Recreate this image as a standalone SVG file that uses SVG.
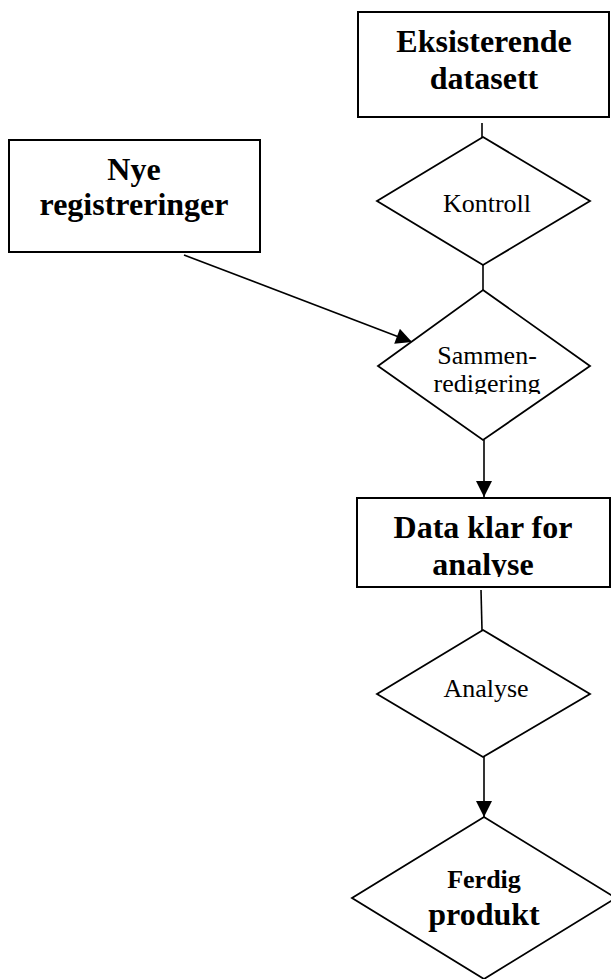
<svg xmlns="http://www.w3.org/2000/svg" width="611" height="979" viewBox="0 0 611 979">
  <style>
    .box { fill: #fff; stroke: #000; stroke-width: 2; }
    .dia { fill: #fff; stroke: #000; stroke-width: 1.8; }
    .edge { fill: none; stroke: #000; stroke-width: 1.6; }
    .bold { font-family: "Liberation Serif", "Times New Roman", serif; font-weight: bold; font-size: 32px; text-anchor: middle; fill: #000; }
    .reg { font-family: "Liberation Serif", "Times New Roman", serif; font-size: 26px; text-anchor: middle; fill: #000; }
  </style>
  <defs>
    <marker id="arrow" viewBox="0 0 10 10" refX="10" refY="5" markerWidth="10" markerHeight="10" markerUnits="userSpaceOnUse" orient="auto">
      <path d="M0,0 L10,5 L0,10 Z" fill="#000"/>
    </marker>
    <marker id="arrowBig" viewBox="0 0 10 10" refX="10" refY="5" markerWidth="17" markerHeight="16" markerUnits="userSpaceOnUse" orient="auto">
      <path d="M0,0 L10,5 L0,10 Z" fill="#000"/>
    </marker>
    <clipPath id="clipSammen"><rect x="378" y="290" width="212" height="104"/></clipPath>
    <clipPath id="clipData"><rect x="357" y="498" width="253" height="79"/></clipPath>
  </defs>

  <!-- connectors -->
  <g id="connectors">
    <line class="edge" x1="482" y1="123" x2="482" y2="137"/>
    <line class="edge" x1="483" y1="265" x2="483" y2="290"/>
    <line class="edge" x1="184" y1="255" x2="412" y2="342" marker-end="url(#arrowBig)"/>
    <line class="edge" x1="484" y1="440" x2="484" y2="497" marker-end="url(#arrowBig)"/>
    <line class="edge" x1="481" y1="590" x2="482" y2="630"/>
    <line class="edge" x1="484" y1="757" x2="484" y2="817" marker-end="url(#arrowBig)"/>
  </g>

  <g id="eksisterende">
    <rect class="box" x="358" y="12" width="251" height="105"/>
    <text class="bold" x="484" y="52">Eksisterende</text>
    <text class="bold" x="484" y="89">datasett</text>
  </g>

  <g id="nye">
    <rect class="box" x="9" y="140" width="251" height="112"/>
    <text class="bold" x="134" y="180">Nye</text>
    <text class="bold" x="134" y="215">registreringer</text>
  </g>

  <g id="kontroll">
    <polygon class="dia" points="483,137 590,201 483,265 377,201"/>
    <text class="reg" x="487" y="212">Kontroll</text>
  </g>

  <g id="sammenredigering">
    <polygon class="dia" points="483,290 590,366 483,440 378,366"/>
    <g clip-path="url(#clipSammen)">
      <text class="reg" x="487" y="364">Sammen-</text>
      <text class="reg" x="487" y="392">redigering</text>
    </g>
  </g>

  <g id="data-klar">
    <rect class="box" x="357" y="498" width="253" height="89"/>
    <g clip-path="url(#clipData)">
      <text class="bold" x="483" y="538">Data klar for</text>
      <text class="bold" x="483" y="575">analyse</text>
    </g>
  </g>

  <g id="analyse">
    <polygon class="dia" points="483,630 590,694 483,757 377,694"/>
    <text class="reg" x="486" y="697">Analyse</text>
  </g>

  <g id="ferdig">
    <polygon class="dia" points="484,817 616,898 484,979 352,898"/>
    <text class="bold" x="484" y="888" style="font-size:26px">Ferdig</text>
    <text class="bold" x="484" y="925">produkt</text>
  </g>
</svg>
